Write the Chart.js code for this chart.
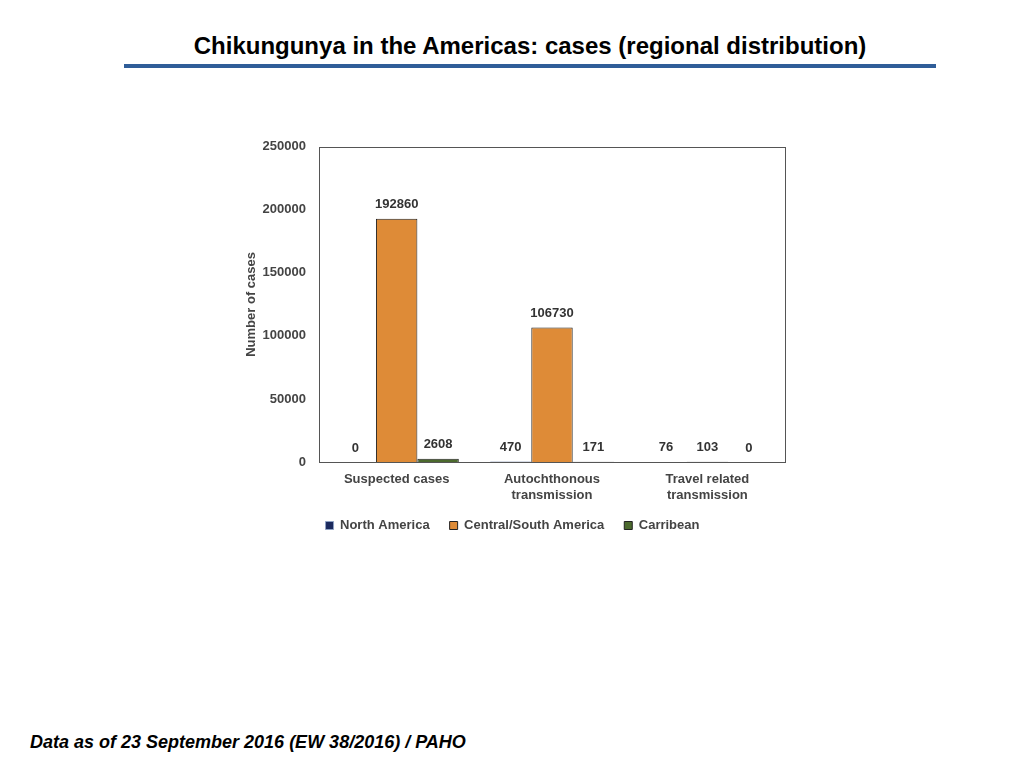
<!DOCTYPE html>
<html>
<head>
<meta charset="utf-8">
<script src="https://cdn.jsdelivr.net/npm/chart.js@4/dist/chart.umd.min.js"></script>
<style>
  body { margin: 0; width: 1024px; height: 768px; background: #fff; position: relative; overflow: hidden; font-family: "Liberation Sans", Arial, sans-serif; }
  #title { position: absolute; left: 0; width: 1060px; top: 32px; text-align: center; font-weight: bold; font-size: 24px; color: #000; }
  #rule { position: absolute; left: 124px; top: 64px; width: 812px; height: 4px; background: #2F5D98; }
  #foot { position: absolute; left: 30px; top: 732px; font-weight: bold; font-style: italic; font-size: 18px; color: #000; }
  #wrap { position: absolute; left: 240px; top: 126px; width: 560px; height: 422px; }
</style>
</head>
<body>
<div id="title">Chikungunya in the Americas: cases (regional distribution)</div>
<div id="rule"></div>
<div id="wrap"><canvas id="chart"></canvas></div>
<div id="foot">Data as of 23 September 2016 (EW 38/2016) / PAHO</div>
<script>
const categories = ['Suspected cases', ['Autochthonous', 'transmission'], ['Travel related', 'transmission']];
const northAmerica = [0, 470, 76];
const centralSouthAmerica = [192860, 106730, 103];
const carribean = [2608, 171, 0];
const yTicks = [0, 50000, 100000, 150000, 200000, 250000];

const labelColor = '#444';

// value labels above each bar
const valueLabels = {
    id: 'valueLabels',
    afterDatasetsDraw(chart) {
        const ctx = chart.ctx;
        ctx.save();
        ctx.font = 'bold 13px "Liberation Sans", Arial, sans-serif';
        ctx.fillStyle = '#333';
        ctx.textAlign = 'center';
        ctx.textBaseline = 'middle';
        chart.data.datasets.forEach((ds, i) => {
            chart.getDatasetMeta(i).data.forEach((bar, j) => {
                ctx.fillText(String(ds.data[j]), bar.x, bar.y - 14);
            });
        });
        ctx.restore();
    }
};

// box round the plot area
const plotBox = {
    id: 'plotBox',
    afterDraw(chart) {
        const a = chart.chartArea;
        const ctx = chart.ctx;
        ctx.save();
        ctx.strokeStyle = '#555';
        ctx.lineWidth = 1;
        ctx.strokeRect(Math.round(a.left) + 0.5, Math.round(a.top) + 0.5, Math.round(a.right - a.left), Math.round(a.bottom - a.top));
        ctx.restore();
    }
};

new Chart(document.getElementById('chart'), {
    type: 'bar',
    data: {
        labels: categories,
        datasets: [
            { label: 'North America', data: northAmerica, backgroundColor: '#1B2A5E', borderColor: '#8FA3C6', borderWidth: 1 },
            { label: 'Central/South America', data: centralSouthAmerica, backgroundColor: '#DE8B37', borderColor: '#222', borderWidth: 1 },
            { label: 'Carribean', data: carribean, backgroundColor: '#4C6A2E', borderColor: '#222', borderWidth: 1 }
        ]
    },
    options: {
        responsive: true,
        maintainAspectRatio: false,
        animation: false,
        layout: { padding: { top: 13, right: 15, bottom: 6, left: 0 } },
        datasets: { bar: { categoryPercentage: 0.8, barPercentage: 1.0 } },
        scales: {
            x: {
                grid: { display: false, drawTicks: false },
                border: { display: false },
                ticks: { color: labelColor, padding: 10, font: { family: '"Liberation Sans", Arial, sans-serif', size: 13, weight: 'bold' } },
                afterFit(scale) { scale.height = 37; }
            },
            y: {
                min: 0,
                max: 250000,
                grid: { display: false, drawTicks: false },
                border: { display: false },
                afterBuildTicks(scale) { scale.ticks = yTicks.map(v => ({ value: v })); },
                ticks: {
                    color: labelColor,
                    padding: 13,
                    font: { family: '"Liberation Sans", Arial, sans-serif', size: 13, weight: 'bold' },
                    callback: v => String(v)
                },
                title: { display: true, text: 'Number of cases', color: labelColor, padding: { top: 4, bottom: 4 }, font: { family: '"Liberation Sans", Arial, sans-serif', size: 13, weight: 'bold' } },
                afterFit(scale) { scale.width = 79; }
            }
        },
        plugins: {
            legend: {
                position: 'bottom',
                labels: {
                    boxWidth: 8,
                    boxHeight: 8,
                    padding: 20,
                    color: labelColor,
                    font: { family: '"Liberation Sans", Arial, sans-serif', size: 13, weight: 'bold' }
                }
            },
            tooltip: { enabled: false }
        }
    },
    plugins: [valueLabels, plotBox]
});
</script>
</body>
</html>
